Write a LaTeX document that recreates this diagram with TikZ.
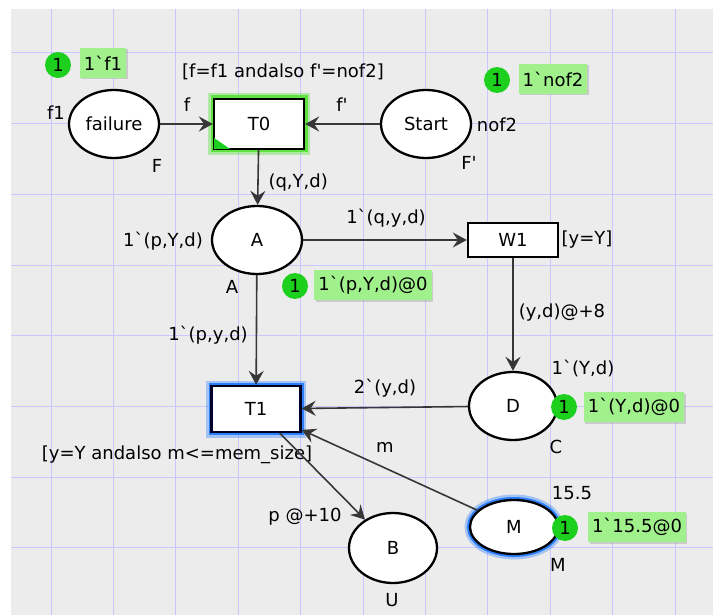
\documentclass[tikz,border=0pt]{standalone}
\usepackage{fontspec}
\newfontfamily\cpnfont{DejaVu Sans}
\usetikzlibrary{arrows.meta}
\usetikzlibrary{shapes.geometric}
\usetikzlibrary{shadows}

\definecolor{bggray}{RGB}{236,236,236}
\definecolor{gridblue}{RGB}{200,200,255}
\definecolor{dotgreen}{RGB}{30,208,30}
\definecolor{boxgreen}{RGB}{160,240,140}
\definecolor{arcgray}{RGB}{55,55,55}
\definecolor{glowgreen}{RGB}{90,225,60}
\definecolor{glowblue}{RGB}{30,120,255}

\begin{document}
\begin{tikzpicture}[x=1pt, y=-1pt,
    font=\cpnfont\fontsize{18}{21}\selectfont,
    place/.style={ellipse, draw, line width=2.3pt, fill=white,
        minimum width=90pt, minimum height=68pt, inner sep=0pt},
    trans/.style={rectangle, draw, line width=2.3pt, fill=white,
        minimum width=90pt, inner sep=0pt},
    arc/.style={draw=arcgray, line width=1.6pt,
        -{Stealth[length=14pt,width=15pt,inset=5pt]}},
    tokcount/.style={circle, fill=dotgreen, inner sep=0pt, minimum size=26pt},
    tokmark/.style={rectangle, fill=boxgreen, inner sep=4pt, minimum height=30pt,
        drop shadow={shadow xshift=1.5pt, shadow yshift=-1.5pt, opacity=0.3}}]

\useasboundingbox (0,0) rectangle (713,615);
\fill[bggray] (11,9) rectangle (713,615);
\foreach \gx in {0,...,10}
    \draw[gridblue, line width=1pt] ({51+62.4*\gx},9) -- ({51+62.4*\gx},615);
\foreach \gy in {0,...,7}
    \draw[gridblue, line width=1pt] (11,{53+70.7*\gy}) -- (713,{53+70.7*\gy});

\node[place] at (114,124) (Fail) {failure};
\node[place] at (426,124) (Start) {Start};
\node[place] at (257,240) (A) {A};
\node[place, minimum width=88pt] at (513,406) (D) {D};
\node[place, minimum width=88pt, minimum height=70pt] at (393,548) (B) {B};
\node[place, minimum width=88pt, minimum height=54pt,
    preaction={draw=glowblue, line width=11pt, opacity=0.35},
    preaction={draw=glowblue, line width=6pt, opacity=0.9}] at (514,527) (M) {M};

\node[trans, minimum height=50pt,
    preaction={draw=glowgreen, line width=12pt, opacity=0.4},
    preaction={draw=glowgreen, line width=7pt, opacity=0.95}] at (259,124) (T0) {T0};
\node[trans, minimum height=34pt] at (513,240) (W1) {W1};
\node[trans, minimum width=89pt, minimum height=46pt, draw=black!85!blue,
    preaction={draw=glowblue, line width=11pt, opacity=0.35},
    preaction={draw=glowblue, line width=6pt, opacity=0.9}] at (256,409) (T1) {T1};
\fill[dotgreen] ([shift={(1.2,-1.2)}]T0.south west) -- ++(16,0) -- ++(-16,-11) -- cycle;

\node at (56,113) (FailIM) {f1};
\node at (157,166) (FailCS) {F};
\node at (497,125) (StartIM) {nof2};
\node at (469,163) (StartCS) {F'};
\node at (163,241) (AIM) {1`(p,Y,d)};
\node at (232,287) (ACS) {A};
\node at (583,368) (DIM) {1`(Y,d)};
\node at (556,447) (DCS) {C};
\node at (572,493) (MIM) {15.5};
\node at (558,565) (MCS) {M};
\node at (392,600) (BCS) {U};

\node at (283,72) (T0G) {[f=f1 andalso f'=nof2]};
\node at (587,240) (W1G) {[y=Y]};
\node at (177,455) (T1G) {[y=Y andalso m<=mem\_size]};

\draw[arc] (Fail) -- (T0);
\draw[arc] (Start) -- (T0);
\draw[arc] (T0) -- (A);
\draw[arc] (A) -- (W1);
\draw[arc] (W1) -- (D);
\draw[arc] (A) -- (T1);
\draw[arc] (D) -- (T1);
\draw[arc] (M) -- (T1);
\draw[arc] (T1) -- (B);

\node at (187,105) (FailT0) {f};
\node at (342,105) (StartT0) {f'};
\node[anchor=west] at (265,183) (T0A) {(q,Y,d)};
\node at (386,218) (AW1) {1`(q,y,d)};
\node at (208,335) (AT1) {1`(p,y,d)};
\node at (562,313) (W1D) {(y,d)@+8};
\node at (385,388) (DT1) {2`(y,d)};
\node at (385,447) (MT1) {m};
\node at (305,517) (T1B) {p @+10};

\node[tokcount] at (58,65) (FailN) {1};
\node[tokmark] at (103,63) (FailTok) {1`f1};
\node[tokcount] at (497,80) (StartN) {1};
\node[tokmark] at (553,79) (StartTok) {1`nof2};
\node[tokcount] at (295,286) (AN) {1};
\node[tokmark] at (373,285) (ATok) {1`(p,Y,d)@0};
\node[tokcount] at (564,407) (DN) {1};
\node[tokmark] at (634,407) (DTok) {1`(Y,d)@0};
\node[tokcount] at (565,528) (MN) {1};
\node[tokmark] at (637,527) (MTok) {1`15.5@0};
\end{tikzpicture}
\end{document}
